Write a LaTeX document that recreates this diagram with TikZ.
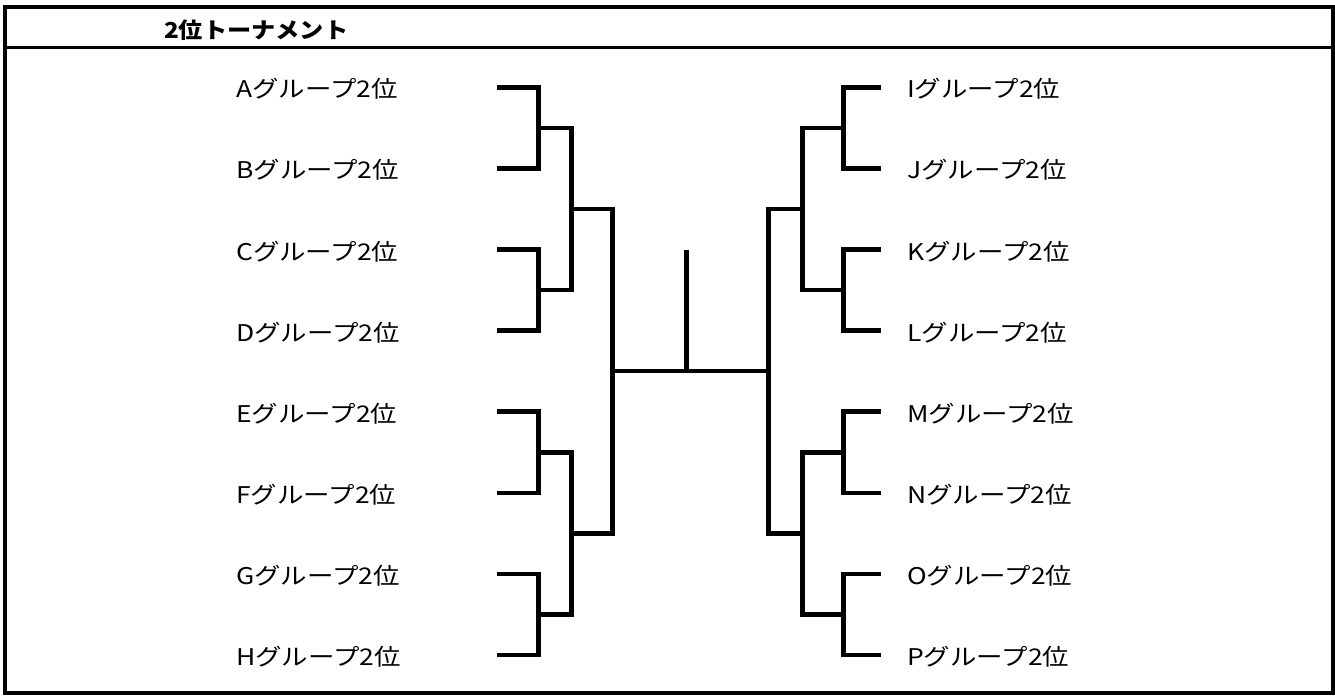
\documentclass[tikz,border=0pt]{standalone}
\usepackage{fontspec}
\usetikzlibrary{calc}
\newfontfamily\labfont{Noto Sans CJK JP}[FakeStretch=1.15]
\newfontfamily\ttlfont{Noto Sans CJK JP}[FakeStretch=1.1]
\begin{document}
\begin{tikzpicture}[x=1pt,y=-1pt,
  br/.style={line width=4.6pt,line join=miter,line cap=butt},
  frame/.style={line width=4pt},
  sep/.style={line width=3pt},
  lbl/.style={anchor=base west,inner sep=0pt,font=\labfont\fontsize{23}{23}\selectfont},
  ttl/.style={anchor=base west,inner sep=0pt,font=\ttlfont\bfseries\fontsize{22}{22}\selectfont}]
\useasboundingbox (0,0) rectangle (1335,696);
\draw[frame] (5,6.5) rectangle (1333,692.5);
\coordinate (sepL) at (5,47.5);
\coordinate (sepR) at (1333,47.5);
\draw[sep] (sepL) -- (sepR);
\node[ttl] (title) at (164,38.5) {2位トーナメント};
% left labels and leaf ends
\foreach \n [count=\i from 0] in {A,B,C,D,E,F,G,H} {
  \pgfmathsetmacro\yy{87.3+81.1*\i}
  \node[lbl] (\n) at (236,\yy+10.5) {\n{}グループ2位};
  \coordinate (\n e) at (497,\yy);
}
\foreach \n [count=\i from 0] in {I,J,K,L,M,N,O,P} {
  \pgfmathsetmacro\yy{87.3+81.1*\i}
  \node[lbl] (\n) at (907,\yy+10.5) {\n{}グループ2位};
  \coordinate (\n e) at (881,\yy);
}
% left round 1
\foreach \a/\b in {A/B,C/D,E/F,G/H} {
  \draw[br] (\a e) -- ++(41.5,0) |- (\b e);
  \coordinate (\a\b) at ($(\a e)!.5!(\b e)+(41.5,0)$);
}
% right round 1
\foreach \a/\b in {I/J,K/L,M/N,O/P} {
  \draw[br] (\a e) -- ++(-37.3,0) |- (\b e);
  \coordinate (\a\b) at ($(\a e)!.5!(\b e)+(-37.3,0)$);
}
% left round 2
\draw[br] (AB) -- ++(33,0) |- (CD);
\coordinate (ABCD) at ($(AB)!.5!(CD)+(33,0)$);
\draw[br] (EF) -- ++(33,0) |- (GH);
\coordinate (EFGH) at ($(EF)!.5!(GH)+(33,0)$);
% right round 2
\draw[br] (IJ) -- ++(-41.4,0) |- (KL);
\coordinate (IJKL) at ($(IJ)!.5!(KL)+(-41.4,0)$);
\draw[br] (MN) -- ++(-41.4,0) |- (OP);
\coordinate (MNOP) at ($(MN)!.5!(OP)+(-41.4,0)$);
% semifinals
\draw[br] (ABCD) -- ++(40.8,0) |- (EFGH);
\coordinate (leftW) at ($(ABCD)!.5!(EFGH)+(40.8,0)$);
\draw[br] (IJKL) -- ++(-33.6,0) |- (MNOP);
\coordinate (rightW) at ($(IJKL)!.5!(MNOP)+(-33.6,0)$);
% final
\draw[br] (leftW) -- (rightW);
\coordinate (stemTop) at (686.7,250);
\coordinate (stemBot) at ($(leftW)!(stemTop)!(rightW)$);
\draw[br] (stemTop) -- (stemBot);
\end{tikzpicture}
\end{document}
